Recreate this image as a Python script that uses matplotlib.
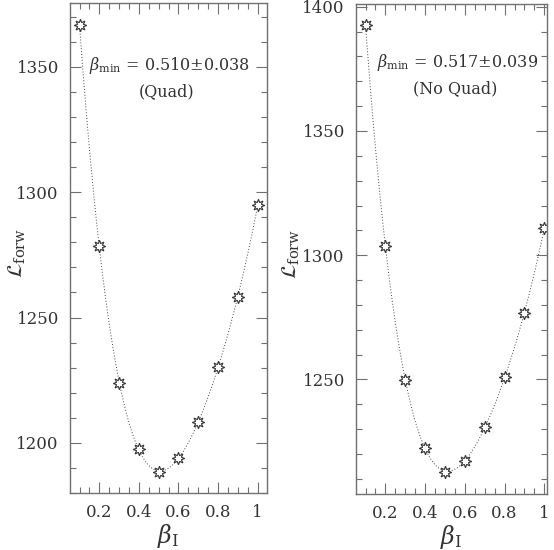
import numpy as np
import matplotlib
matplotlib.use("Agg")
import matplotlib.pyplot as plt
from matplotlib.ticker import MultipleLocator

beta = [0.1, 0.2, 0.3, 0.4, 0.5, 0.6, 0.7, 0.8, 0.9, 1.0]
like_quad = [1366.6, 1278.5, 1224.0, 1197.6, 1188.4, 1193.9, 1208.5, 1230.4, 1258.1, 1294.8]
like_noquad = [1392.6, 1303.6, 1249.7, 1222.6, 1212.6, 1217.3, 1230.7, 1251.0, 1276.6, 1311.0]
texts = [(r"$\beta_{\rm min}$ = 0.510$\pm$0.038", "(Quad)"),
         (r"$\beta_{\rm min}$ = 0.517$\pm$0.039", "(No Quad)")]

plt.rcParams['font.family'] = ['DejaVu Serif']
plt.rcParams['mathtext.fontset'] = 'dejavuserif'

fig = plt.figure(figsize=(5.54, 5.50), dpi=100)
gray = '#707070'
axes_pos = [[70/554, 1-493/550, 197/554, 490/550],
            [356/554, 1-494/550, 190.7/554, 490/550]]
ylims = [(1180, 1375.5), (1203.9, 1401.1)]
xlims = [(0.052, 1.047), (0.052, 1.012)]
ylabel_x = [(17-70)/197, (291-356)/190.7]

for i, (ys, pos) in enumerate(zip([like_quad, like_noquad], axes_pos)):
    ax = fig.add_axes(pos)
    x = np.array(beta)
    y = np.array(ys)
    c = np.polyfit(x, y, 4)
    xx = np.linspace(0.1, 1.0, 200)
    ax.plot(xx, np.polyval(c, xx), ls=(0, (1.0, 2.0)), lw=0.7, color='#444444')
    ax.plot(x, y, ls='none', marker=(8, 1, 0), ms=9, mfc='white', mec='#333333', mew=0.8)
    ax.set_xlim(*xlims[i])
    ax.set_ylim(*ylims[i])
    ax.xaxis.set_minor_locator(MultipleLocator(0.05))
    ax.yaxis.set_major_locator(MultipleLocator(50))
    ax.yaxis.set_minor_locator(MultipleLocator(10))
    ax.set_xticks([0.2, 0.4, 0.6, 0.8, 1.0])
    ax.set_xticklabels(['0.2', '0.4', '0.6', '0.8', '1'])
    ax.tick_params(which='both', direction='in', top=True, right=True, color=gray,
                   labelsize=12, labelcolor='#333333')
    ax.tick_params(which='major', length=8, width=0.8, pad=8)
    ax.tick_params(which='minor', length=4, width=0.8)
    for s in ax.spines.values():
        s.set_color(gray)
        s.set_linewidth(1.0)
    ax.set_xlabel(r"$\beta_{\rm I}$", fontsize=17, color='#333333')
    ax.xaxis.set_label_coords(0.5, -(536-493)/490, transform=ax.transAxes)
    ax.xaxis.label.set_va('center')
    ax.set_ylabel(r"$\mathcal{L}_{\rm forw}$", fontsize=15, color='#333333')
    ax.yaxis.set_label_coords(ylabel_x[i], 0.49)
    ax.yaxis.label.set_va('center')
    t1, t2 = texts[i]
    if i == 0:
        ax.text(0.505, 0.872, t1, transform=ax.transAxes, ha='center', va='center', fontsize=11.5, color='#333333')
        ax.text(0.49, 0.820, t2, transform=ax.transAxes, ha='center', va='center', fontsize=11.5, color='#333333')
    else:
        ax.text(0.535, 0.880, t1, transform=ax.transAxes, ha='center', va='center', fontsize=11.5, color='#333333')
        ax.text(0.52, 0.827, t2, transform=ax.transAxes, ha='center', va='center', fontsize=11.5, color='#333333')

fig.savefig("out.png", dpi=100)
